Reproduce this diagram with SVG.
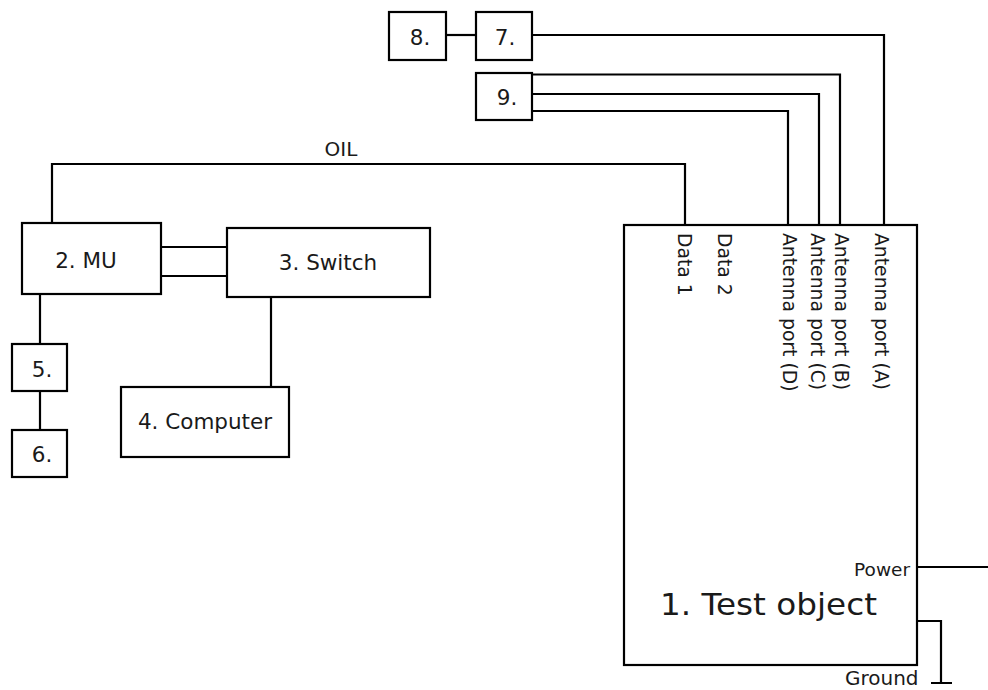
<svg xmlns="http://www.w3.org/2000/svg" width="988" height="690" viewBox="0 0 988 690">
<style>
.box{fill:#fff;stroke:#000;stroke-width:2.2}
.wire{fill:none;stroke:#000;stroke-width:2.2}
text{font-family:"DejaVu Sans","Liberation Sans",sans-serif;fill:#1a1a1a}
.lbl{font-size:21.5px;text-anchor:middle}
.port{font-size:18.8px}
</style>
<rect width="988" height="690" fill="#fff"/>
<g id="connectors">
<path class="wire" d="M52,223 V164 H685 V225"/>
<path class="wire" d="M161,247 H227 M161,276 H227"/>
<path class="wire" d="M40,294 V344 M40,391 V430"/>
<path class="wire" d="M271,297 V387"/>
<path class="wire" d="M446,35 H476"/>
<path class="wire" d="M532,35 H884 V225"/>
<path class="wire" d="M532,74.5 H840 V225"/>
<path class="wire" d="M532,94 H819 V225"/>
<path class="wire" d="M532,111 H788 V225"/>
<path class="wire" d="M917,567 H988"/>
<path class="wire" d="M917,621 H941 V683 M931,683 H952"/>
</g>
<g id="node1">
<rect class="box" x="624" y="225" width="293" height="440"/>
<text x="660" y="615" font-size="30" textLength="217" lengthAdjust="spacingAndGlyphs">1. Test object</text>
<text x="910" y="576" font-size="18.5" text-anchor="end">Power</text>
<text class="port" transform="translate(678,233) rotate(90)">Data 1</text>
<text class="port" transform="translate(718,233) rotate(90)">Data 2</text>
<text class="port" transform="translate(783,233) rotate(90)">Antenna port (D)</text>
<text class="port" transform="translate(811,233) rotate(90)">Antenna port (C)</text>
<text class="port" transform="translate(835,233) rotate(90)">Antenna port (B)</text>
<text class="port" transform="translate(875,233) rotate(90)">Antenna port (A)</text>
</g>
<g id="node2"><rect class="box" x="22" y="223" width="139" height="71"/><text class="lbl" x="86" y="268">2. MU</text></g>
<g id="node3"><rect class="box" x="227" y="228" width="203" height="69"/><text class="lbl" x="328" y="270">3. Switch</text></g>
<g id="node4"><rect class="box" x="121" y="387" width="168" height="70"/><text class="lbl" x="205" y="429">4. Computer</text></g>
<g id="node5"><rect class="box" x="12" y="344" width="55" height="47"/><text class="lbl" x="42" y="377">5.</text></g>
<g id="node6"><rect class="box" x="12" y="430" width="55" height="47"/><text class="lbl" x="42" y="462">6.</text></g>
<g id="node7"><rect class="box" x="476" y="12" width="56" height="48"/><text class="lbl" x="505" y="45">7.</text></g>
<g id="node8"><rect class="box" x="389" y="12" width="57" height="48"/><text class="lbl" x="420" y="45">8.</text></g>
<g id="node9"><rect class="box" x="476" y="73" width="56" height="47"/><text class="lbl" x="507" y="105">9.</text></g>
<g id="labels">
<text x="341" y="156" font-size="20" text-anchor="middle">OIL</text>
<text x="845" y="685" font-size="20">Ground</text>
</g>
</svg>
